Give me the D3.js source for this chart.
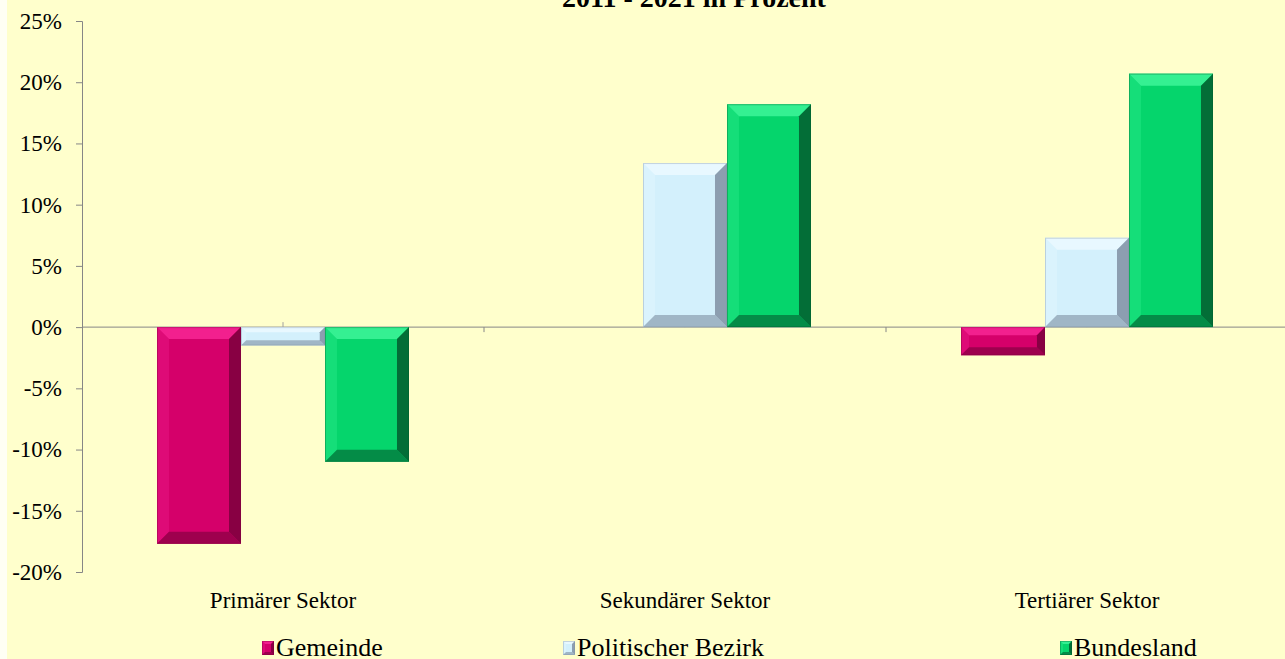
<!DOCTYPE html>
<html>
<head>
<meta charset="utf-8">
<script src="https://cdn.jsdelivr.net/npm/d3@7"></script>
<style>
    body { margin: 0; background: #ffffff; }
    text { font-family: "Liberation Serif", "Times New Roman", serif; }
</style>
</head>
<body>
<script>
const categories = ['Primärer Sektor', 'Sekundärer Sektor', 'Tertiärer Sektor'];
const series = ['Gemeinde', 'Politischer Bezirk', 'Bundesland'];
const gemeinde = [-17.7, 0, -2.3];
const bezirk = [-1.5, 13.4, 7.3];
const bundesland = [-11.0, 18.2, 20.7];
const y_ticks = [-20, -15, -10, -5, 0, 5, 10, 15, 20, 25];
const title = '2011 - 2021 in Prozent';

const values = [gemeinde, bezirk, bundesland];

const width = 1285;
const height = 659;

// bar colours: main face, light bevel, dark bevel
const colors = {
    'Gemeinde': {face: '#d5006a', light: '#f2208e', dark: '#7a003c'},
    'Politischer Bezirk': {face: '#d3f0fc', light: '#e8f8ff', dark: '#7f8fa2'},
    'Bundesland': {face: '#05d56c', light: '#35f092', dark: '#035c2e'}
};

var svg = d3.select('body')
    .append('svg')
    .attr('width', width)
    .attr('height', height);

svg.append('rect')
    .attr('width', width)
    .attr('height', height)
    .attr('fill', '#fffff4');

svg.append('rect')
    .attr('x', 7)
    .attr('width', width - 7)
    .attr('height', height)
    .attr('fill', '#ffffcc');

svg.append('text')
    .attr('x', 694)
    .attr('y', 7)
    .attr('text-anchor', 'middle')
    .attr('font-size', '28px')
    .attr('font-weight', 'bold')
    .text(title);

var y_scale = d3.scaleLinear()
    .domain([-20, 25])
    .range([572, 21]);

var x_scale = d3.scaleBand()
    .domain(categories)
    .range([82, 1288]);

var x_inner = d3.scaleBand()
    .domain(series)
    .range([0, x_scale.bandwidth()])
    .paddingInner(0)
    .paddingOuter(0.893);

// y axis
let y_axis = d3.axisLeft(y_scale)
    .tickValues(y_ticks)
    .tickSize(6)
    .tickPadding(14)
    .tickFormat(d => d + '%');

var y_g = svg.append('g')
    .attr('transform', 'translate(82,0)')
    .call(y_axis);
y_g.select('.domain').attr('stroke', '#868686');
y_g.selectAll('.tick line').attr('stroke', '#868686');
y_g.selectAll('.tick text')
    .attr('font-size', '23px')
    .attr('fill', '#000');

// zero line with category ticks
var zero_y = y_scale(0);
svg.append('line')
    .attr('x1', 82).attr('x2', width)
    .attr('y1', zero_y).attr('y2', zero_y)
    .attr('stroke', '#868686');

svg.selectAll('.cat-tick')
    .data(categories)
    .enter()
    .append('line')
    .attr('x1', d => x_scale(d) + x_scale.bandwidth())
    .attr('x2', d => x_scale(d) + x_scale.bandwidth())
    .attr('y1', zero_y).attr('y2', zero_y + 5)
    .attr('stroke', '#868686');

svg.selectAll('.mid-tick')
    .data(categories)
    .enter()
    .append('line')
    .attr('x1', d => x_scale(d) + x_scale.bandwidth() / 2)
    .attr('x2', d => x_scale(d) + x_scale.bandwidth() / 2)
    .attr('y1', zero_y).attr('y2', zero_y - 5)
    .attr('stroke', '#a0a0a0');

// bars with bevel
var bars = [];
series.forEach(function (s, si) {
    categories.forEach(function (c, ci) {
        bars.push({series: s, category: c, value: values[si][ci]});
    });
});

function bevel(g, x, y, w, h, col) {
    var b = Math.min(12, h / 3.5, w / 4);
    g.append('rect').attr('x', x).attr('y', y).attr('width', w).attr('height', h).attr('fill', col.face);
    if (h < 1) return;
    var pts = [
        [[x, y], [x + w, y], [x + w - b, y + b], [x + b, y + b], col.light, 1],
        [[x, y], [x + b, y + b], [x + b, y + h - b], [x, y + h], col.light, 0.35],
        [[x + w, y], [x + w - b, y + b], [x + w - b, y + h - b], [x + w, y + h], col.dark, 0.85],
        [[x, y + h], [x + w, y + h], [x + w - b, y + h - b], [x + b, y + h - b], col.dark, 0.6]
    ];
    pts.forEach(function (p) {
        g.append('polygon')
            .attr('points', p.slice(0, 4).map(q => q.join(',')).join(' '))
            .attr('fill', p[4])
            .attr('fill-opacity', p[5]);
    });
    g.append('rect').attr('x', x + 0.5).attr('y', y + 0.5).attr('width', w - 1).attr('height', h - 1)
        .attr('fill', 'none').attr('stroke', col.dark).attr('stroke-opacity', 0.35);
}

var bar_g = svg.append('g');
bars.forEach(function (d) {
    if (d.value === 0) return;
    var x = x_scale(d.category) + x_inner(d.series);
    var y = y_scale(Math.max(0, d.value));
    var h = Math.abs(y_scale(d.value) - y_scale(0));
    bevel(bar_g.append('g'), x, y, x_inner.bandwidth(), h, colors[d.series]);
});

// category labels
svg.selectAll('.cat-label')
    .data(categories)
    .enter()
    .append('text')
    .attr('x', d => x_scale(d) + x_scale.bandwidth() / 2)
    .attr('y', 608)
    .attr('text-anchor', 'middle')
    .attr('font-size', '23px')
    .text(d => d);

// legend
const legend_x = [262, 563, 1060];
var legend = svg.selectAll('.legend')
    .data(series)
    .enter()
    .append('g')
    .attr('transform', (d, i) => 'translate(' + legend_x[i] + ',648)');

legend.each(function (d) {
    bevel(d3.select(this).append('g'), 0, -7, 12, 14, colors[d]);
});

legend.append('text')
    .attr('x', 14)
    .attr('y', 8)
    .attr('font-size', '26px')
    .text(d => d);
</script>
</body>
</html>
